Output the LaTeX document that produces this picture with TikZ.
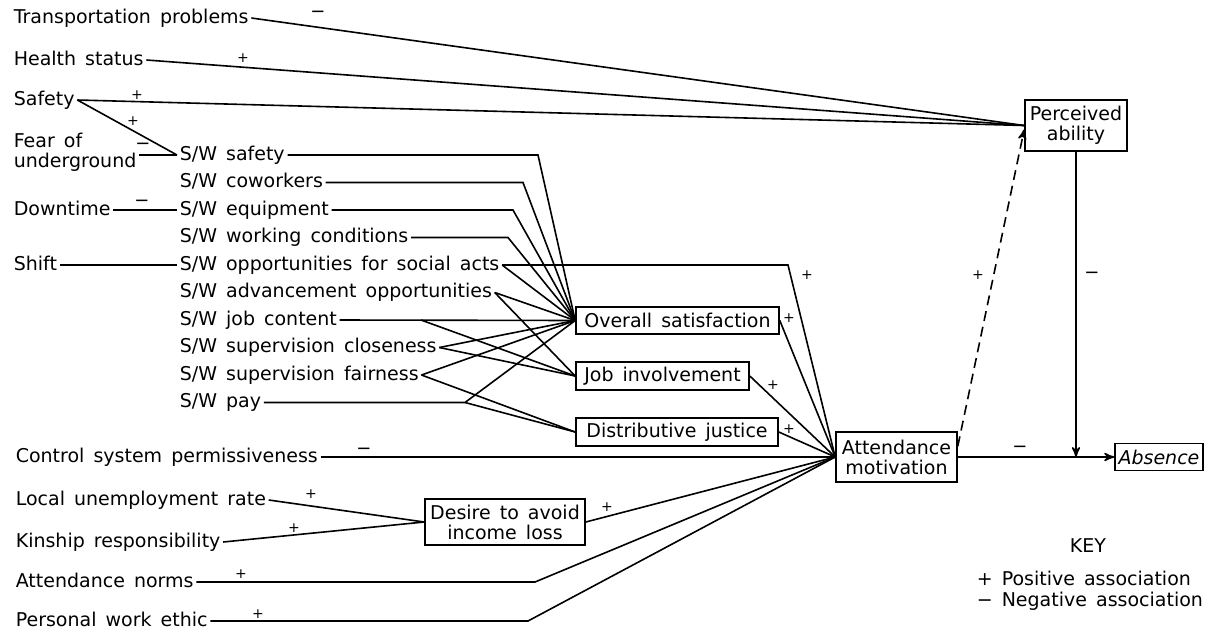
\documentclass[tikz,border=0pt]{standalone}
\usepackage{fontspec}
\setmainfont[WordSpace=1.5]{DejaVu Sans}
\usetikzlibrary{arrows,positioning}

\begin{document}
\begin{tikzpicture}[>=stealth',x=0.5pt,y=-0.5pt,node distance=13.75pt,on grid,line width=0.8pt,font=\fontsize{9.5}{10}\selectfont]
\tikzstyle{lbl} = [anchor=west,inner sep=1pt,text height=7pt,text depth=2pt]
\tikzstyle{box} = [draw=black,inner sep=1pt,align=center]
\tikzstyle{pl} = [inner sep=0pt,font=\fontsize{7}{7}\selectfont]
\tikzstyle{mi} = [inner sep=0pt,font=\fontsize{9}{9}\selectfont]
    \useasboundingbox (0,0) rectangle (1211,633);

    \node[lbl] (trans) at (11,18) {Transportation problems};
    \node[lbl] (health) at (11,60) {Health status};
    \node[lbl] (safety) at (11,100) {Safety};
    \node[anchor=west,inner sep=1pt,align=left] (fear) at (11,152) {Fear of\\underground};

    \node[lbl] (swsafe) at (177,155) {S/W safety};
    \node[lbl] (swcow) [below=of swsafe.west,anchor=west] {S/W coworkers};
    \node[lbl] (sweq) [below=of swcow.west,anchor=west] {S/W equipment};
    \node[lbl] (swwork) [below=of sweq.west,anchor=west] {S/W working conditions};
    \node[lbl] (swsoc) [below=of swwork.west,anchor=west] {S/W opportunities for social acts};
    \node[lbl] (swadv) [below=of swsoc.west,anchor=west] {S/W advancement opportunities};
    \node[lbl] (swjob) [below=of swadv.west,anchor=west] {S/W job content};
    \node[lbl] (swclose) [below=of swjob.west,anchor=west] {S/W supervision closeness};
    \node[lbl] (swfair) [below=of swclose.west,anchor=west] {S/W supervision fairness};
    \node[lbl] (swpay) [below=of swfair.west,anchor=west] {S/W pay};

    \node[lbl] (down) at (sweq -| 11,0) {Downtime};
    \node[lbl] (shift) at (swsoc -| 11,0) {Shift};
    \node[lbl] (ctrl) at (13,457) {Control system permissiveness};
    \node[lbl] (local) at (13,500) {Local unemployment rate};
    \node[lbl] (kin) at (13,542) {Kinship responsibility};
    \node[lbl] (norms) at (13,582) {Attendance norms};
    \node[lbl] (ethic) at (13,621) {Personal work ethic};

    \node[box,minimum width=51pt,minimum height=25.5pt] (pa) at (1076,125.5) {Perceived\\ability};
    \node[box,minimum width=101.5pt,minimum height=13.5pt] (os) at (677.5,320.5) {Overall satisfaction};
    \node[box,minimum width=86.5pt,minimum height=14pt] (ji) at (662.5,376) {Job involvement};
    \node[box,minimum width=101pt,minimum height=14pt] (dj) at (677,432) {Distributive justice};
    \node[box,minimum width=80pt,minimum height=23pt] (dai) at (505,522) {Desire to avoid\\income loss};
    \node[box,minimum width=60.5pt,minimum height=25pt] (am) at (896.5,457) {Attendance\\motivation};
    \node[box,minimum width=44pt,minimum height=13.5pt,font=\fontsize{9.5}{10}\selectfont\itshape] (abs) at (1159,457) {Absence};

    \node (key) at (1088,546) {KEY};
    \node[lbl] (keypos) at (974,580) {+ Positive association};
    \node[lbl] (keyneg) at (974,601) {− Negative association};

    \draw (trans.east) -- (pa.west);
    \draw (health.east) -- (pa.west);
    \draw (safety.east) -- (pa.west);
    \draw (safety.east) -- (swsafe.west);
    \draw (fear.east |- swsafe.west) -- (swsafe.west);
    \draw (down) edge (sweq);
    \draw (shift) edge (swsoc);

    \draw (swsafe.east) -- (swsafe -| 538,0) -- (os.west);
    \draw (swcow.east) -- (swcow -| 523,0) -- (os.west);
    \draw (sweq.east) -- (sweq -| 513,0) -- (os.west);
    \draw (swwork.east) -- (swwork -| 508,0) -- (os.west);
    \draw (swsoc.east) -- (os.west);
    \draw (swsoc.east) -- (swsoc -| 788,0) -- (am.west);
    \draw (swadv.east) -- (os.west);
    \draw (swadv.east) -- (ji.west);
    \draw (swjob.east) -- (os.west);
    \draw (swjob -| 421,0) -- (ji.west);
    \draw (swclose.east) -- (os.west);
    \draw (swclose.east) -- (ji.west);
    \draw (swfair.east) -- (os.west);
    \draw (swfair.east) -- (dj.west);
    \draw (swpay.east) -- (swpay -| 465,0) -- (os.west);
    \draw (swpay -| 465,0) -- (dj.west);

    \draw (os.east) -- (am.west);
    \draw (ji.east) -- (am.west);
    \draw (dj.east) -- (am.west);
    \draw (ctrl.east) -- (am.west);
    \draw (local.east) -- (dai.west);
    \draw (kin.east) -- (dai.west);
    \draw (dai.east) -- (am.west);
    \draw (norms.east) -- (norms -| 535,0) -- (am.west);
    \draw (ethic.east) -- (ethic -| 528,0) -- (am.west);

    \draw[->] (am.east) -- (abs.west);
    \draw[->] (pa.south) -- (pa.south |- am.east);
    \draw[->,dash pattern=on 5pt off 3pt] (am.10) -- ([yshift=-2pt]pa.west);

    \node[mi] (sgtrans) at (318,14) {−};
    \node[pl] (sghealth) at (243,58) {+};
    \node[pl] (sgsafety) at (137,95) {+};
    \node[pl] (sgsafesw) at (133,121) {+};
    \node[mi] (sgfear) at (143,146) {−};
    \node[mi] (sgdown) at (142,203) {−};
    \node[pl] (sgsoc) at (807,275) {+};
    \node[pl] (sgos) at (789,318) {+};
    \node[pl] (sgji) at (773,385) {+};
    \node[pl] (sgdj) at (789,429) {+};
    \node[mi] (sgctrl) at (364,451) {−};
    \node[pl] (sglocal) at (311,494) {+};
    \node[pl] (sgkin) at (294,528) {+};
    \node[pl] (sgdai) at (607,507) {+};
    \node[pl] (sgnorms) at (241,574) {+};
    \node[pl] (sgethic) at (258,614) {+};
    \node[mi] (sgabs) at (1020,449) {−};
    \node[mi] (sgpa) at (1092,275) {−};
    \node[pl] (sgam) at (978,275) {+};
\end{tikzpicture}
\end{document}
